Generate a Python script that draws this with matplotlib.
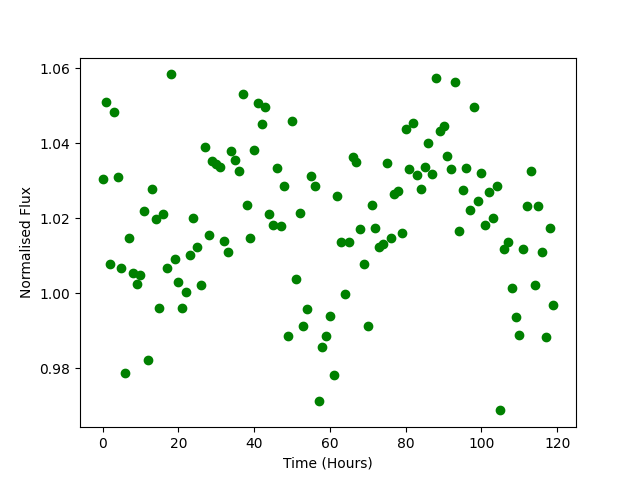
import numpy as np
import matplotlib
matplotlib.use('Agg')
import matplotlib.pyplot as plt

# time in hours, one sample per hour
time = np.arange(120)

flux = [1.0304, 1.0510, 1.0077, 1.0484, 1.0310, 1.0066, 0.9787, 1.0146, 1.0053, 1.0026,
        1.0048, 1.0218, 0.9821, 1.0277, 1.0197, 0.9962, 1.0210, 1.0068, 1.0583, 1.0092,
        1.0029, 0.9960, 1.0004, 1.0102, 1.0201, 1.0124, 1.0023, 1.0389, 1.0154, 1.0351,
        1.0344, 1.0337, 1.0138, 1.0111, 1.0378, 1.0354, 1.0325, 1.0532, 1.0234, 1.0147,
        1.0381, 1.0506, 1.0450, 1.0496, 1.0210, 1.0183, 1.0333, 1.0178, 1.0285, 0.9886,
        1.0458, 1.0037, 1.0213, 0.9912, 0.9959, 1.0312, 1.0285, 0.9712, 0.9856, 0.9885,
        0.9939, 0.9781, 1.0259, 1.0136, 0.9998, 1.0136, 1.0363, 1.0349, 1.0171, 1.0077,
        0.9912, 1.0234, 1.0173, 1.0124, 1.0132, 1.0347, 1.0147, 1.0264, 1.0272, 1.0160,
        1.0437, 1.0331, 1.0453, 1.0315, 1.0277, 1.0336, 1.0400, 1.0317, 1.0573, 1.0432,
        1.0445, 1.0365, 1.0331, 1.0563, 1.0165, 1.0275, 1.0333, 1.0221, 1.0496, 1.0245,
        1.0320, 1.0183, 1.0269, 1.0200, 1.0285, 0.9688, 1.0117, 1.0136, 1.0013, 0.9936,
        0.9888, 1.0117, 1.0232, 1.0325, 1.0021, 1.0232, 1.0111, 0.9883, 1.0173, 0.9970]

plt.figure(figsize=(6.4, 4.8), dpi=100)
plt.plot(time, flux, 'go')
plt.xlabel('Time (Hours)')
plt.ylabel('Normalised Flux')
plt.savefig('out.png')
